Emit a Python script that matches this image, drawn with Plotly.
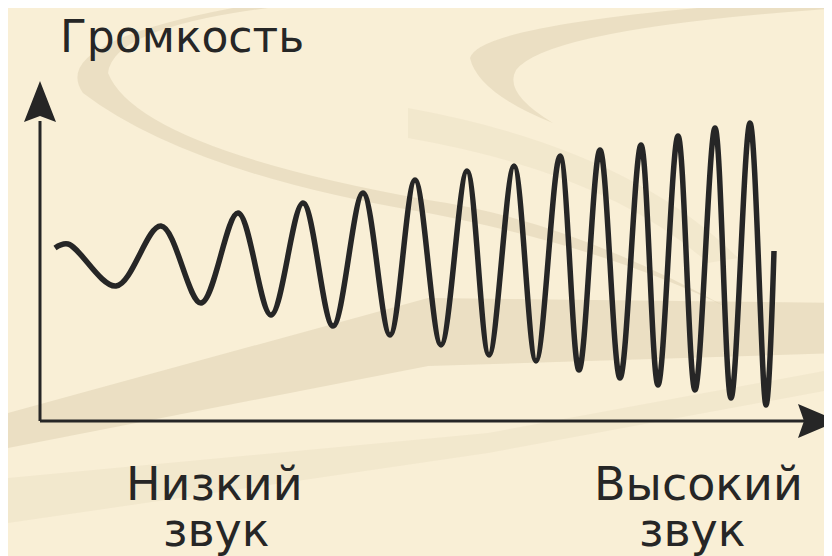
import plotly.graph_objects as go

# ---- data (axis units: x to the right of the vertical axis, y above the horizontal axis)
wave_x = [15, 28, 76, 121, 161, 198, 231, 263, 293, 323, 350, 375, 401, 427, 449, 474,
          496, 520, 539, 560, 580, 601, 618, 638, 655, 675, 691, 710, 726, 734]
wave_y = [173, 177, 135, 195, 118, 208, 106, 218, 95, 228, 86, 241, 76, 250, 66, 255,
          60, 265, 51, 271, 43, 276, 36, 285, 31, 293, 23, 298, 16, 170]

title_text = "Громкость"
low_label = ["Низкий", "звук"]
high_label = ["Высокий", "звук"]

BG = "#f9efd6"
BAND = "rgba(205,190,155,0.32)"
BAND_LIGHT = "rgba(205,190,155,0.14)"
INK = "#262626"
FONT = "DejaVu Sans, Liberation Sans, Arial, sans-serif"

fig = go.Figure()
fig.add_trace(go.Scatter(
    x=wave_x, y=wave_y, mode="lines",
    line=dict(color=INK, width=5.5, shape="spline", smoothing=1.0),
    hoverinfo="skip", showlegend=False))

shapes = []


def P(px, py):
    return f"{px/832:.4f},{1-py/556:.4f}"


def path(pts, close=True):
    s = "M " + " L ".join(P(a, b) for a, b in pts)
    return s + (" Z" if close else "")


def cpath(cmds):
    return " ".join(c if isinstance(c, str) else P(*c) for c in cmds)


# decorative background swooshes
shapes.append(dict(type="path", xref="paper", yref="paper", layer="below", line_width=0,
                   fillcolor=BAND,
                   path=cpath(["M", (225, 0), "Q", (40, 35), (75, 85), "Q", (180, 165), (420, 205),
                               "Q", (600, 240), (720, 300), "Q", (560, 212), (420, 192),
                               "Q", (130, 140), (100, 65), "Q", (105, 20), (260, 0), "Z"])))
shapes.append(dict(type="path", xref="paper", yref="paper", layer="below", line_width=0,
                   fillcolor=BAND,
                   path=cpath(["M", (690, 0), "Q", (470, 20), (462, 50), "Q", (470, 85), (545, 115),
                               "Q", (495, 85), (508, 62), "Q", (540, 20), (832, 0), "Z"])))
shapes.append(dict(type="path", xref="paper", yref="paper", layer="below", line_width=0,
                   fillcolor=BAND_LIGHT,
                   path=cpath(["M", (400, 100), "Q", (620, 140), (730, 250), "L", (700, 255),
                               "Q", (600, 165), (400, 130), "Z"])))
shapes.append(dict(type="path", xref="paper", yref="paper", layer="below", line_width=0,
                   fillcolor=BAND,
                   path=path([(0, 405), (420, 290), (832, 295), (832, 345), (420, 358), (0, 440)])))
shapes.append(dict(type="path", xref="paper", yref="paper", layer="below", line_width=0,
                   fillcolor=BAND_LIGHT,
                   path=path([(0, 470), (480, 425), (832, 360), (832, 380), (480, 445), (0, 515)])))

# axes (lines + arrowheads), in axis units
shapes.append(dict(type="line", xref="x", yref="y", x0=0, y0=0, x1=0, y1=300,
                   line=dict(color=INK, width=3)))
shapes.append(dict(type="line", xref="x", yref="y", x0=0, y0=0, x1=765, y1=0,
                   line=dict(color=INK, width=3)))
shapes.append(dict(type="path", xref="x", yref="y", fillcolor=INK, line_width=0,
                   path="M 0,340 L -16,299 L 0,305 L 16,299 Z"))
shapes.append(dict(type="path", xref="x", yref="y", fillcolor=INK, line_width=0,
                   path="M 798,0 L 758,17 L 764,0 L 758,-17 Z"))

ann = []
ann.append(dict(text=title_text, xref="paper", yref="paper", x=50/832, y=1-1/556,
                xanchor="left", yanchor="top", showarrow=False,
                font=dict(family=FONT, size=44, color=INK)))
for txt, cx, cy in [(low_label[0], 206, 476), (low_label[1], 208, 522),
                    (high_label[0], 690, 476), (high_label[1], 684, 522)]:
    ann.append(dict(text=txt, xref="paper", yref="paper", x=cx/832, y=1-cy/556,
                    xanchor="center", yanchor="middle", showarrow=False,
                    font=dict(family=FONT, size=46, color=INK)))

fig.update_layout(
    width=832, height=556, margin=dict(l=0, r=0, t=0, b=0),
    paper_bgcolor=BG, plot_bgcolor="rgba(0,0,0,0)",
    xaxis=dict(range=[-32, 800], visible=False, fixedrange=True),
    yaxis=dict(range=[-143, 413], visible=False, fixedrange=True),
    shapes=shapes, annotations=ann, showlegend=False)

fig.write_html("out.html")
